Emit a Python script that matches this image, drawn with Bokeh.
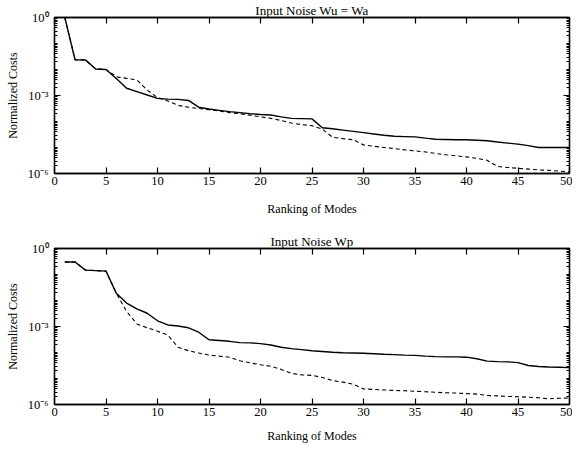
import numpy as np
from bokeh.plotting import figure
from bokeh.layouts import column
from bokeh.models import (FixedTicker, CustomJSTickFormatter, LinearAxis, LogAxis,
                          Range1d, AllLabels)
from bokeh.embed import file_html
from bokeh.resources import INLINE

# ---------------- data (as log10 of cost) -------------
modes = list(range(1, 51))

wu_solid_log10 = [0.0, -1.63, -1.63, -1.98, -2.0, -2.35, -2.72, -2.85, -2.98, -3.11,
                  -3.14, -3.15, -3.19, -3.45, -3.52, -3.57, -3.62, -3.66, -3.70, -3.73,
                  -3.75, -3.82, -3.88, -3.89, -3.90, -4.24, -4.28, -4.33, -4.38, -4.43,
                  -4.48, -4.53, -4.57, -4.58, -4.59, -4.64, -4.68, -4.69, -4.70, -4.70,
                  -4.72, -4.74, -4.79, -4.83, -4.87, -4.93, -5.0, -5.0, -5.0, -5.0]
wu_dashed_log10 = [0.0, -1.63, -1.63, -1.98, -2.0, -2.28, -2.34, -2.40, -2.79, -3.08,
                   -3.21, -3.38, -3.45, -3.50, -3.55, -3.60, -3.66, -3.70, -3.76, -3.82,
                   -3.88, -3.96, -4.06, -4.12, -4.16, -4.29, -4.61, -4.66, -4.70, -4.90,
                   -4.95, -5.0, -5.04, -5.09, -5.13, -5.17, -5.23, -5.28, -5.32, -5.36,
                   -5.42, -5.49, -5.73, -5.77, -5.80, -5.83, -5.86, -5.88, -5.91, -5.93]

wp_solid_log10 = [-0.52, -0.52, -0.83, -0.85, -0.87, -1.72, -2.10, -2.32, -2.49, -2.78,
                  -2.94, -2.98, -3.05, -3.22, -3.51, -3.54, -3.57, -3.62, -3.63, -3.66,
                  -3.71, -3.80, -3.85, -3.89, -3.93, -3.96, -3.99, -4.01, -4.02, -4.03,
                  -4.05, -4.07, -4.08, -4.10, -4.11, -4.14, -4.16, -4.17, -4.17, -4.18,
                  -4.24, -4.33, -4.35, -4.36, -4.39, -4.50, -4.54, -4.56, -4.57, -4.58]
wp_dashed_log10 = [-0.52, -0.52, -0.83, -0.85, -0.87, -1.72, -2.42, -2.90, -3.05, -3.18,
                   -3.33, -3.80, -3.93, -4.02, -4.10, -4.14, -4.18, -4.32, -4.40, -4.47,
                   -4.53, -4.65, -4.80, -4.86, -4.88, -4.96, -5.08, -5.14, -5.22, -5.40,
                   -5.42, -5.44, -5.46, -5.47, -5.49, -5.51, -5.53, -5.55, -5.56, -5.58,
                   -5.60, -5.65, -5.67, -5.69, -5.70, -5.72, -5.74, -5.78, -5.76, -5.75]

titles = ["Input Noise Wu = Wa", "Input Noise Wp"]
x_ticks = [0, 5, 10, 15, 20, 25, 30, 35, 40, 45, 50]
y_major_ticks = [1e-6, 1e-3, 1.0]
x_label = "Ranking of Modes"
y_label = "Normalized Costs"

FONT = "Liberation Serif"

y_minor_ticks = [k * 10.0 ** d for d in range(-6, 0) for k in range(1, 10)]

sup_fmt = CustomJSTickFormatter(code="""
const e = Math.round(Math.log10(tick));
const m = {"0":"\u2070","1":"\u00b9","2":"\u00b2","3":"\u00b3","4":"\u2074","5":"\u2075",
           "6":"\u2076","7":"\u2077","8":"\u2078","9":"\u2079","-":"\u207b"};
return "10" + String(e).split("").map(c => m[c]).join("");
""")
blank_fmt = CustomJSTickFormatter(code="return '';")


def style_axis(ax):
    ax.major_tick_in = 6
    ax.major_tick_out = 0
    ax.minor_tick_in = 3
    ax.minor_tick_out = 0
    ax.axis_line_color = "black"
    ax.axis_line_width = 1.3
    ax.major_tick_line_color = "black"
    ax.major_tick_line_width = 1.2
    ax.minor_tick_line_color = "black"
    ax.major_label_policy = AllLabels()
    ax.major_label_text_font = FONT
    ax.major_label_text_font_size = "12.5px"
    ax.major_label_text_color = "black"
    ax.axis_label_text_font = FONT
    ax.axis_label_text_font_size = "12px"
    ax.axis_label_text_font_style = "normal"
    ax.axis_label_text_color = "black"


def make_plot(title, title_offset, solid, dashed, top_border, bottom_border, xlab_standoff):
    p = figure(frame_width=515, frame_height=156, y_axis_type="log",
               x_range=Range1d(0, 50), y_range=Range1d(1e-6, 1.0),
               output_backend="svg", toolbar_location=None,
               min_border_left=54, min_border_right=3,
               min_border_top=top_border, min_border_bottom=bottom_border)
    p.title.text = title
    p.title.align = "center"
    p.title.offset = title_offset
    p.title.standoff = 0
    p.title.text_font = FONT
    p.title.text_font_size = "13px"
    p.title.text_font_style = "normal"
    p.title.text_color = "black"
    p.grid.visible = False
    p.outline_line_color = "black"
    p.outline_line_width = 1.3
    p.background_fill_color = "white"
    p.border_fill_color = "white"

    p.xaxis.ticker = FixedTicker(ticks=x_ticks)
    p.xaxis.axis_label = x_label
    p.xaxis.major_label_standoff = 3
    p.xaxis.axis_label_standoff = xlab_standoff
    style_axis(p.xaxis[0])

    p.yaxis.ticker = FixedTicker(ticks=y_major_ticks, minor_ticks=y_minor_ticks)
    p.yaxis.formatter = sup_fmt
    p.yaxis.axis_label = y_label
    p.yaxis.major_label_standoff = 6
    p.yaxis.axis_label_standoff = 5
    style_axis(p.yaxis[0])

    right = LogAxis(ticker=FixedTicker(ticks=y_major_ticks, minor_ticks=y_minor_ticks),
                    formatter=blank_fmt)
    style_axis(right)
    right.major_label_standoff = 0
    p.add_layout(right, "right")
    top = LinearAxis(ticker=FixedTicker(ticks=x_ticks), formatter=blank_fmt)
    style_axis(top)
    top.major_label_standoff = 0
    p.add_layout(top, "above")

    ys = [10.0 ** v for v in solid]
    yd = [10.0 ** v for v in dashed]
    p.line(modes, yd, line_color="black", line_width=1.1, line_dash="4 3")
    p.line(modes, ys, line_color="black", line_width=1.4)
    return p


p1 = make_plot(titles[0], 4, wu_solid_log10, wu_dashed_log10, 17, 56, 14)
p2 = make_plot(titles[1], -10, wp_solid_log10, wp_dashed_log10, 19, 38, 10)

layout = column(p1, p2, spacing=0)
open("out.html", "w").write(file_html(layout, INLINE))
